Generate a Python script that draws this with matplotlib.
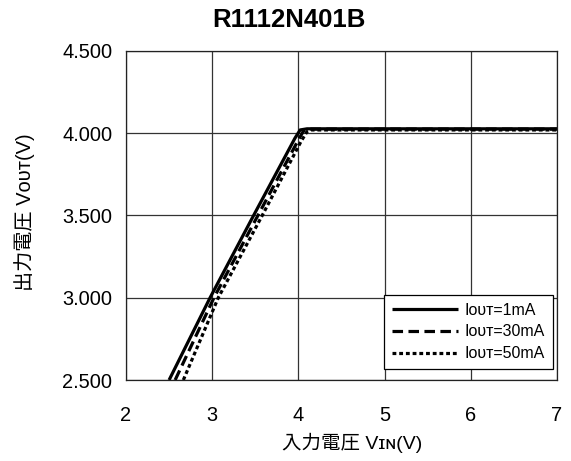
import matplotlib
matplotlib.use("Agg")
import matplotlib.pyplot as plt

plt.rcParams['font.family'] = ['Liberation Sans', 'DejaVu Sans', 'Noto Sans CJK JP']
cjk = ['Liberation Sans', 'Noto Sans CJK JP', 'DejaVu Sans']

# Data (VIN in V, VOUT in V)
vin_1ma = [2.50, 2.975, 3.48, 3.96, 4.02, 4.10, 7.0]
vout_1ma = [2.50, 3.00, 3.50, 3.97, 4.02, 4.027, 4.027]
vin_30ma = [2.57, 3.02, 3.53, 4.00, 4.06, 4.12, 7.0]
vout_30ma = [2.50, 3.00, 3.50, 3.96, 4.015, 4.025, 4.025]
vin_50ma = [2.665, 3.07, 3.58, 4.03, 4.10, 4.15, 7.0]
vout_50ma = [2.50, 3.00, 3.50, 3.95, 4.01, 4.02, 4.02]

labels = ['I\u1d0f\u1d1c\u1d1b=1mA', 'I\u1d0f\u1d1c\u1d1b=30mA', 'I\u1d0f\u1d1c\u1d1b=50mA']
xticks = [2, 3, 4, 5, 6, 7]
yticks = [2.5, 3.0, 3.5, 4.0, 4.5]

fig = plt.figure(figsize=(5.71, 4.61), dpi=100)
ax = fig.add_axes([0.2207, 0.1757, 0.7548, 0.7137])

ax.plot(vin_1ma, vout_1ma, color='black', lw=2.3, solid_capstyle='butt', label=labels[0])
ax.plot(vin_30ma, vout_30ma, color='black', lw=2.3, linestyle=(0, (3.3, 1.7)), label=labels[1])
ax.plot(vin_50ma, vout_50ma, color='black', lw=2.3, linestyle=(0, (1.2, 0.9)), label=labels[2])

ax.set_xlim(2, 7)
ax.set_ylim(2.5, 4.5)
ax.set_xticks(xticks)
ax.set_yticks(yticks)
ax.set_yticklabels([f'{v:.3f}' for v in yticks])
ax.tick_params(length=0, labelsize=14.4)
ax.tick_params(axis='x', pad=18.5)
ax.tick_params(axis='y', pad=10)
ax.grid(True, color='#333333', lw=0.9)
for s in ax.spines.values():
    s.set_color('#222222')
    s.set_linewidth(0.9)

# title is centred on the figure, not the axes
fig.text(289 / 571, 1 - 20 / 461, 'R1112N401B', fontsize=18.5, fontweight='bold',
         ha='center', va='center')
fig.text(352 / 571, 1 - 443 / 461, '入力電圧 V\u026a\u0274(V)', fontsize=14,
         family=cjk, ha='center', va='center')
fig.text(25 / 571, 1 - 212 / 461, '出力電圧 V\u1d0f\u1d1c\u1d1b(V)', fontsize=14.5,
         family=cjk, ha='center', va='center', rotation=90)

leg = ax.legend(loc='lower right', bbox_to_anchor=(0.991, 0.033), borderaxespad=0,
                fontsize=11.5, handlelength=4.1, handletextpad=0.45, labelspacing=0.42,
                fancybox=False, framealpha=1, edgecolor='black', borderpad=0.5)
leg.get_frame().set_linewidth(0.9)

fig.savefig('out.png', dpi=100)
